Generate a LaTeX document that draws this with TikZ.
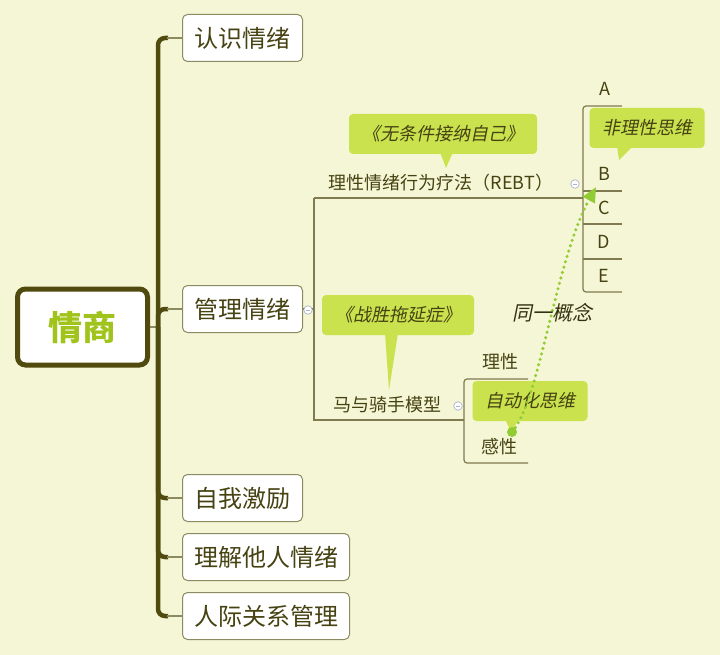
\documentclass[tikz,border=0pt]{standalone}
\usepackage{fontspec}
\setmainfont{Noto Sans CJK SC}
\newfontfamily\cjkit{Noto Sans CJK SC}[FakeSlant=0.2]
\usetikzlibrary{arrows.meta}
\definecolor{bgc}{RGB}{245,246,214}
\definecolor{trunkc}{RGB}{80,74,14}
\definecolor{boxline}{RGB}{140,138,96}
\definecolor{txtc}{RGB}{70,66,18}
\definecolor{rootg}{RGB}{160,196,28}
\definecolor{callc}{RGB}{201,226,78}
\definecolor{thinc}{RGB}{128,122,80}
\definecolor{arrc}{RGB}{146,204,52}
\definecolor{colc}{RGB}{170,178,205}
\tikzset{
  rootbox/.style={draw=trunkc, line width=5pt, fill=white, rounded corners=8pt,
    minimum width=130pt, minimum height=76pt, text=rootg,
    font=\fontsize{34}{38}\selectfont\bfseries},
  topicbox/.style={draw=boxline, line width=1pt, fill=white, rounded corners=5pt,
    minimum height=47pt, anchor=west, text=txtc, font=\fontsize{24}{28}\selectfont},
  subtxt/.style={text=txtc, inner sep=0pt, font=\fontsize{18}{22}\selectfont},
  callout/.style={fill=callc, rounded corners=4pt, minimum height=40pt, text=txtc,
    inner sep=0pt, font=\fontsize{18}{22}\selectfont\cjkit},
  trunkline/.style={draw=trunkc, line width=4.5pt, rounded corners=7pt},
  branchline/.style={draw=boxline, line width=1.6pt},
  sline/.style={draw=thinc, line width=1.2pt},
  collapse/.style={circle, draw=colc, fill=white, line width=0.7pt, minimum size=8.5pt, inner sep=0pt},
  dotarrow/.style={draw=arrc, line width=3.4pt, line cap=round, dash pattern=on 0pt off 5.6pt,
    -{Triangle[length=15pt,width=13pt]}},
  notetxt/.style={text=txtc!75!black, inner sep=0pt, font=\fontsize{20}{24}\selectfont\cjkit}
}
\begin{document}
\begin{tikzpicture}[x=1pt,y=-1pt]
\fill[bgc] (0,0) rectangle (720,655);
\useasboundingbox (0,0) rectangle (720,655);

% root
\node[rootbox] (root) at (82.5,327) {情商};

% main topics
\node[topicbox, minimum width=120pt] (t1) at (182,38) {认识情绪};
\node[topicbox, minimum width=120pt] (t2) at (182,309) {管理情绪};
\node[topicbox, minimum width=120pt] (t3) at (182,498) {自我激励};
\node[topicbox, minimum width=167pt] (t4) at (182,557) {理解他人情绪};
\node[topicbox, minimum width=167pt] (t5) at (182,616) {人际关系管理};

% trunk
\coordinate (hub) at (158,327);
\draw[branchline] (root.east) -- (hub);
\foreach \t/\yy in {t1/38,t2/309,t3/498,t4/557,t5/616}{
  \draw[trunkline] (hub) -- (158,\yy) -- (168,\yy);
  \draw[branchline] (167,\yy) -- (\t.west);
}

% sub-branches of 管理情绪
\coordinate (j1) at (314,309);
\draw[sline] (t2.east) -- (j1);
\draw[sline] (314,198) -- (583,198);
\draw[sline] (314,198) -- (314,420) -- (464,420);
\node[collapse] (c1) at (308,310) {};
\draw[colc, line width=0.8pt] ([xshift=-2.2pt]c1.center) -- ([xshift=2.2pt]c1.center);

\node[subtxt] (rebt) at (441,183) {理性情绪行为疗法（REBT）};
\node[subtxt] (horse) at (387,405) {马与骑手模型};
\node[collapse] (c2) at (575,184) {};
\draw[colc, line width=0.8pt] ([xshift=-2.2pt]c2.center) -- ([xshift=2.2pt]c2.center);
\node[collapse] (c3) at (458,406) {};
\draw[colc, line width=0.8pt] ([xshift=-2.2pt]c3.center) -- ([xshift=2.2pt]c3.center);

% REBT children
\draw[sline, rounded corners=3pt] (622,106) -- (583,106) -- (583,292) -- (622,292);
\foreach \yy in {191,224,259}{
  \draw[sline] (583,\yy) -- (622,\yy);
}
\node[subtxt] (ca) at (605,89) {A};
\node[subtxt] (cb) at (604,174) {B};
\node[subtxt] (cc) at (604,208) {C};
\node[subtxt] (cd) at (604,242) {D};
\node[subtxt] (ce) at (604,276) {E};

% horse children
\draw[sline, rounded corners=3pt] (528,379) -- (464,379) -- (464,463) -- (528,463);
\node[subtxt] (rx) at (500,362) {理性};
\node[subtxt] (gx) at (499,447) {感性};

% callouts
\node[callout, minimum width=188pt] (n1) at (443,134) {《无条件接纳自己》};
\fill[callc] (440,152) -- (453,152) -- (446,168) -- cycle;

\node[callout, minimum width=115pt] (n2) at (647,128) {非理性思维};
\fill[callc] (617,146) -- (633,146) -- (619,160) -- cycle;

\node[callout, minimum width=152pt] (n3) at (398,315) {《战胜拖延症》};
\fill[callc] (385,333) -- (398,333) -- (389,390) -- cycle;

\node[callout, minimum width=115pt] (n4) at (530,401) {自动化思维};
\fill[callc] (505,419) -- (519,419) -- (511,432) -- cycle;

% relationship arrow
\coordinate (dotc) at (512,432);
\fill[arrc] (dotc) circle (5pt);
\draw[dotarrow] (dotc) .. controls (540,400) and (555,262) .. (596,187);
\node[notetxt] (same) at (552,313) {同一概念};
\end{tikzpicture}
\end{document}
